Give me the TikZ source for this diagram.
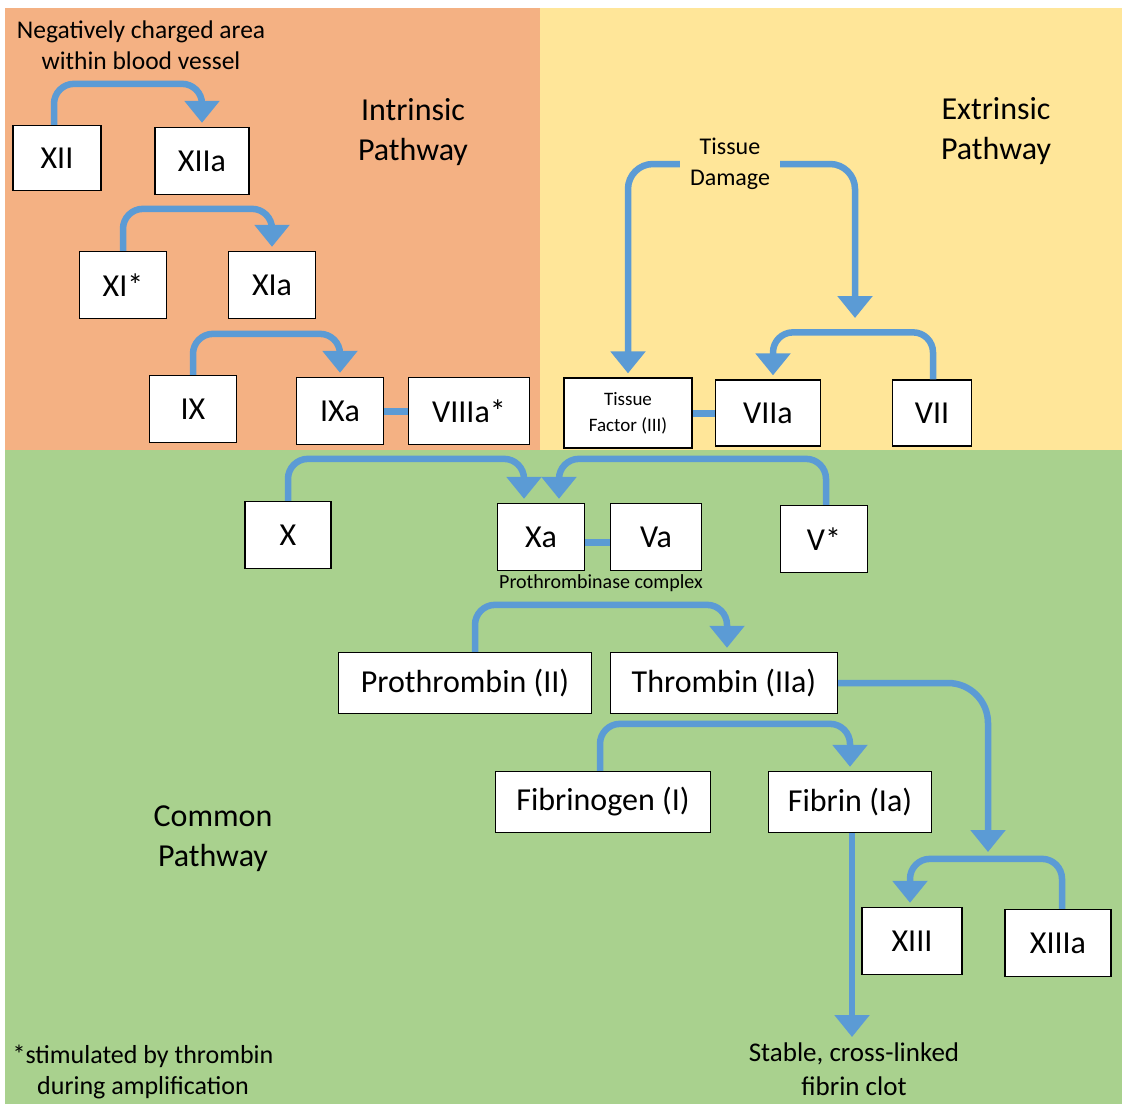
\documentclass[tikz,border=0pt]{standalone}
\usepackage{fontspec}
\setmainfont{Carlito}
\usetikzlibrary{arrows.meta}
\definecolor{intrinsic}{RGB}{244,177,131}
\definecolor{extrinsic}{RGB}{255,230,153}
\definecolor{common}{RGB}{169,209,142}
\definecolor{cascade}{RGB}{91,155,213}
\newcommand{\boxsize}{\fontsize{32}{40}\selectfont}
\newcommand{\notesize}{\fontsize{24}{31}\selectfont}

\begin{document}
\begin{tikzpicture}[x=1pt, y=-1pt,
  factor/.style={draw, fill=white, line width=1.3pt, inner sep=0pt,
    minimum width=87pt, minimum height=67pt, font=\boxsize},
  longbox/.style={factor, minimum height=61pt},
  note/.style={align=center, font=\notesize},
  title/.style={align=center, font=\boxsize},
  flow/.style={draw=cascade, line width=6.5pt, rounded corners=20pt,
    -{Triangle[width=34pt,length=22pt]}, shorten >=4pt},
  bond/.style={draw=cascade, line width=7pt}]
  \useasboundingbox (0,0) rectangle (1122,1104);
  \fill[white] (0,0) rectangle (1122,1104);
  \fill[intrinsic] (5,8) rectangle (540,450);
  \fill[extrinsic] (540,8) rectangle (1122,450);
  \fill[common] (5,450) rectangle (1122,1104);

  \node [note, font=\fontsize{25.5}{31}\selectfont] (surface) at (141,45) {Negatively charged area\\within blood vessel};
  \node [title] (intr) at (413,132) {Intrinsic\\Pathway};
  \node [title] (extr) at (996,131) {Extrinsic\\Pathway};
  \node [title] (comm) at (213,839) {Common\\Pathway};
  \node [note, inner xsep=10pt] (dmg) at (730,164) {Tissue\\Damage};
  \node [note, font=\fontsize{20}{24}\selectfont] (pcx) at (601,583) {Prothrombinase complex};
  \node [note, font=\fontsize{26}{31}\selectfont] (foot) at (143,1072) {*stimulated by thrombin\\during amplification};
  \node [note, font=\fontsize{27}{34}\selectfont] (clot) at (854,1069) {Stable, cross-linked\\fibrin clot};

  \node [factor, minimum width=88pt, minimum height=65pt] (xii) at (57,158) {XII};
  \node [factor, minimum width=94pt] (xiia) at (202,161) {XIIa};
  \node [factor] (xi) at (123,285) {XI*};
  \node [factor] (xia) at (272,285) {XIa};
  \node [factor] (ix) at (193,409) {IX};
  \node [factor] (ixa) at (340,411) {IXa};
  \node [factor, minimum width=121pt] (viiia) at (469,411) {VIIIa*};
  \node [factor, minimum width=128pt, minimum height=70pt, align=center,
    font=\fontsize{19}{26}\selectfont] (tf) at (628,413) {Tissue\\Factor (III)};
  \node [factor, minimum width=105pt, minimum height=66pt] (viia) at (768,413) {VIIa};
  \node [factor, minimum width=79pt, minimum height=66pt] (vii) at (932,413) {VII};
  \node [factor, minimum width=86pt] (x) at (288,535) {X};
  \node [factor] (xa) at (541,537) {Xa};
  \node [factor, minimum width=91pt] (va) at (656,537) {Va};
  \node [factor] (v) at (824,539) {V*};
  \node [longbox, minimum width=253pt] (pro) at (465,683) {Prothrombin (II)};
  \node [longbox, minimum width=227pt] (thr) at (724,683) {Thrombin (IIa)};
  \node [longbox, minimum width=215pt] (fbg) at (603,802) {Fibrinogen (I)};
  \node [longbox, minimum width=163pt] (fbn) at (850,802) {Fibrin (Ia)};
  \node [factor, minimum width=100pt] (xiii) at (912,941) {XIII};
  \node [factor, minimum width=106pt] (xiiia) at (1058,943) {XIIIa};

  \coordinate (viiin) at (855,322);
  \coordinate (xiiin) at (988,856);
  \coordinate (clotin) at (852,1041);

  \draw [flow] ([xshift=-3pt]xii.north) -- ++(0,-41) -| (xiia.north);
  \draw [flow] (xi.north) -- ++(0,-42) -| (xia.north);
  \draw [flow] (ix.north) -- ++(0,-41) -| (ixa.north);
  \draw [flow, rounded corners=25pt] (dmg.west) -| (tf.north);
  \draw [flow, rounded corners=25pt] (dmg.east) -| (viiin);
  \draw [flow] ([xshift=1pt]vii.north) -- ++(0,-47) -| ([xshift=5pt]viia.north);
  \draw [flow] (x.north) -- ++(0,-42) -| ([xshift=-17pt]xa.north);
  \draw [flow] ([xshift=2pt]v.north) -- ++(0,-46) -| ([xshift=18pt]xa.north);
  \draw [flow] ([xshift=10pt]pro.north) -- ++(0,-47) -| ([xshift=3pt]thr.north);
  \draw [flow, rounded corners=40pt] (thr.east) -| (xiiin);
  \draw [flow] ([xshift=-3pt]fbg.north) -- ++(0,-47) -| (fbn.north);
  \draw [flow] ([xshift=4pt]xiiia.north) -- ++(0,-50) -| ([xshift=-2pt]xiii.north);
  \draw [flow, rounded corners=0pt] ([xshift=2pt]fbn.south) -- (clotin);

  \draw [bond] (ixa.east) -- (viiia.west);
  \draw [bond] (tf.east) -- (viia.west);
  \draw [bond] ([yshift=-5pt]xa.east) -- ([yshift=-5pt]va.west);
\end{tikzpicture}
\end{document}
